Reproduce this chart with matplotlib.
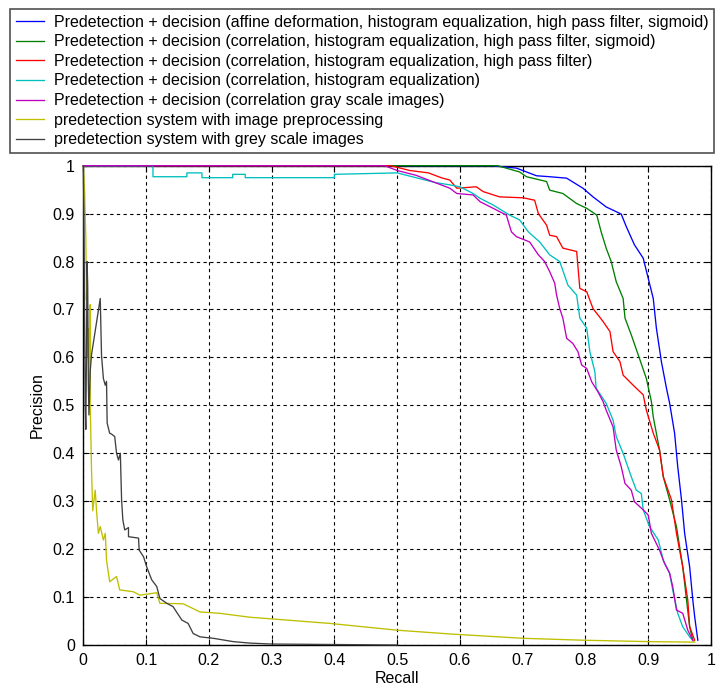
import matplotlib
matplotlib.use("Agg")
import matplotlib.pyplot as plt

plt.rcParams['font.family'] = ['Liberation Sans', 'DejaVu Sans']

labels = [
    "Predetection + decision (affine deformation, histogram equalization, high pass filter, sigmoid)",
    "Predetection + decision (correlation, histogram equalization, high pass filter, sigmoid)",
    "Predetection + decision (correlation, histogram equalization, high pass filter)",
    "Predetection + decision (correlation, histogram equalization)",
    "Predetection + decision (correlation gray scale images)",
    "predetection system with image preprocessing",
    "predetection system with grey scale images",
]
colors = [(0, 0, 1), (0, 0.5, 0), (1, 0, 0), (0, 0.75, 0.75),
          (0.75, 0, 0.75), (0.75, 0.75, 0), (0.25, 0.25, 0.25)]

# Blue: affine deformation, hist eq, HPF, sigmoid
blue_r = [0.0, 0.65, 0.69, 0.722, 0.743, 0.77, 0.796, 0.812, 0.833, 0.857, 0.865, 0.878,
          0.892, 0.900, 0.908, 0.913, 0.921, 0.929, 0.934, 0.942, 0.947, 0.953, 0.958,
          0.966, 0.971, 0.974, 0.979]
blue_p = [1.0, 1.0, 0.995, 0.979, 0.977, 0.974, 0.953, 0.935, 0.914, 0.899, 0.873, 0.835,
          0.807, 0.765, 0.723, 0.661, 0.591, 0.536, 0.505, 0.442, 0.372, 0.303, 0.233,
          0.163, 0.094, 0.059, 0.01]

# Green: correlation, hist eq, HPF, sigmoid
green_r = [0.0, 0.66, 0.695, 0.706, 0.738, 0.743, 0.764, 0.786, 0.802, 0.818, 0.825, 0.833,
           0.841, 0.849, 0.860, 0.863, 0.873, 0.886, 0.897, 0.905, 0.908, 0.918, 0.924,
           0.934, 0.945, 0.955, 0.961, 0.966, 0.971]
green_p = [1.0, 1.0, 0.987, 0.977, 0.967, 0.949, 0.942, 0.921, 0.911, 0.897, 0.862, 0.828,
           0.800, 0.758, 0.723, 0.682, 0.647, 0.598, 0.556, 0.508, 0.476, 0.407, 0.351,
           0.303, 0.247, 0.163, 0.094, 0.038, 0.01]

# Red: correlation, hist eq, HPF
red_r = [0.0, 0.49, 0.52, 0.55, 0.57, 0.584, 0.595, 0.626, 0.637, 0.663, 0.701, 0.719,
         0.725, 0.738, 0.743, 0.754, 0.764, 0.786, 0.791, 0.802, 0.812, 0.828, 0.839,
         0.844, 0.855, 0.860, 0.876, 0.892, 0.897, 0.908, 0.918, 0.924, 0.937, 0.945,
         0.950, 0.955, 0.963, 0.966, 0.974]
red_p = [1.0, 1.0, 0.99, 0.985, 0.975, 0.97, 0.953, 0.956, 0.946, 0.935, 0.933, 0.928,
         0.900, 0.876, 0.855, 0.852, 0.828, 0.821, 0.744, 0.737, 0.702, 0.675, 0.654,
         0.612, 0.591, 0.563, 0.542, 0.522, 0.49, 0.442, 0.407, 0.351, 0.303, 0.233,
         0.198, 0.163, 0.094, 0.038, 0.01]

# Cyan: correlation, hist eq
cyan_r = [0.0, 0.111, 0.111, 0.165, 0.165, 0.189, 0.189, 0.238, 0.238, 0.258, 0.258, 0.40,
          0.40, 0.50, 0.53, 0.56, 0.584, 0.600, 0.621, 0.632, 0.653, 0.679, 0.695, 0.709,
          0.727, 0.743, 0.759, 0.772, 0.786, 0.791, 0.802, 0.807, 0.815, 0.817, 0.833,
          0.844, 0.849, 0.860, 0.873, 0.881, 0.889, 0.892, 0.902, 0.916, 0.924, 0.934,
          0.939, 0.947, 0.955, 0.966, 0.972]
cyan_p = [1.0, 1.0, 0.977, 0.977, 0.985, 0.985, 0.975, 0.975, 0.982, 0.982, 0.975, 0.975,
          0.982, 0.985, 0.975, 0.965, 0.960, 0.956, 0.942, 0.932, 0.918, 0.897, 0.887, 0.862,
          0.841, 0.814, 0.800, 0.751, 0.730, 0.682, 0.661, 0.612, 0.570, 0.536, 0.504,
          0.469, 0.435, 0.400, 0.351, 0.323, 0.316, 0.282, 0.247, 0.219, 0.177, 0.150,
          0.115, 0.066, 0.038, 0.017, 0.008]

# Magenta: correlation gray scale images
mag_r = [0.0, 0.48, 0.50, 0.53, 0.55, 0.57, 0.584, 0.595, 0.621, 0.632, 0.653, 0.674,
         0.682, 0.690, 0.711, 0.725, 0.735, 0.743, 0.751, 0.754, 0.759, 0.764, 0.770,
         0.780, 0.788, 0.794, 0.802, 0.810, 0.820, 0.828, 0.833, 0.844, 0.849, 0.857,
         0.863, 0.873, 0.878, 0.892, 0.900, 0.905, 0.918, 0.926, 0.934, 0.939, 0.945,
         0.955, 0.963, 0.971]
mag_p = [1.0, 1.0, 0.99, 0.98, 0.97, 0.96, 0.953, 0.942, 0.939, 0.925, 0.911, 0.897,
         0.862, 0.852, 0.841, 0.814, 0.800, 0.779, 0.755, 0.730, 0.702, 0.682, 0.640,
         0.629, 0.612, 0.584, 0.577, 0.549, 0.528, 0.508, 0.49, 0.455, 0.407, 0.372,
         0.337, 0.323, 0.299, 0.282, 0.271, 0.233, 0.198, 0.170, 0.150, 0.122, 0.073,
         0.066, 0.031, 0.01]

# Yellow: predetection with image preprocessing
yel_r = [0.0, 0.002, 0.004, 0.005, 0.006, 0.007, 0.008, 0.009, 0.011, 0.011, 0.012, 0.013,
         0.015, 0.019, 0.021, 0.024, 0.027, 0.032, 0.035, 0.037, 0.042, 0.053, 0.058,
         0.080, 0.090, 0.117, 0.122, 0.159, 0.186, 0.218, 0.265, 0.393, 0.499, 0.584,
         0.700, 0.796, 0.902, 0.974]
yel_p = [1.0, 0.95, 0.85, 0.72, 0.78, 0.60, 0.66, 0.55, 0.71, 0.50, 0.44, 0.37,
         0.28, 0.323, 0.282, 0.233, 0.247, 0.219, 0.233, 0.177, 0.132, 0.143, 0.115,
         0.111, 0.104, 0.109, 0.087, 0.086, 0.069, 0.066, 0.058, 0.045, 0.031, 0.023,
         0.014, 0.010, 0.007, 0.006]

# Dark gray: predetection with grey scale images
gray_r = [0.0, 0.001, 0.002, 0.003, 0.004, 0.005, 0.006, 0.007, 0.008, 0.009, 0.011,
          0.013, 0.027, 0.029, 0.032, 0.035, 0.037, 0.038, 0.042, 0.045, 0.050, 0.053,
          0.056, 0.059, 0.061, 0.063, 0.066, 0.072, 0.072, 0.088, 0.089, 0.096, 0.101,
          0.109, 0.117, 0.122, 0.133, 0.143, 0.157, 0.167, 0.175, 0.186, 0.207, 0.239,
          0.265, 0.30, 0.40, 0.50]
gray_p = [1.0, 0.90, 0.70, 0.50, 0.45, 0.60, 0.80, 0.75, 0.55, 0.48, 0.57,
          0.605, 0.723, 0.605, 0.556, 0.542, 0.55, 0.463, 0.442, 0.44, 0.435, 0.40,
          0.386, 0.40, 0.303, 0.261, 0.240, 0.245, 0.226, 0.223, 0.198, 0.184, 0.163,
          0.136, 0.122, 0.097, 0.087, 0.080, 0.052, 0.045, 0.024, 0.017, 0.014, 0.007,
          0.004, 0.002, 0.001, 0.0]

series = [(blue_r, blue_p), (green_r, green_p), (red_r, red_p), (cyan_r, cyan_p),
          (mag_r, mag_p), (yel_r, yel_p), (gray_r, gray_p)]

ticks = [0, 0.1, 0.2, 0.3, 0.4, 0.5, 0.6, 0.7, 0.8, 0.9, 1]
tick_labels = ["0", "0.1", "0.2", "0.3", "0.4", "0.5", "0.6", "0.7", "0.8", "0.9", "1"]

W, H = 718, 691
fig = plt.figure(figsize=(W / 100, H / 100), dpi=100)
ax = fig.add_axes([83.3 / W, (H - 645) / H, (711 - 83.3) / W, (645 - 165.7) / H])

handles = []
for (r, p), c, lab in zip(series, colors, labels):
    h, = ax.plot(r, p, color=c, lw=0.95, label=lab, clip_on=False, zorder=3)
    handles.append(h)

ax.set_xlim(0, 1)
ax.set_ylim(0, 1)
ax.set_xticks(ticks)
ax.set_yticks(ticks)
ax.set_xticklabels(tick_labels)
ax.set_yticklabels(tick_labels)
ax.tick_params(direction='in', top=True, right=True, length=4, width=0.8,
               labelsize=11.5, pad=6)
ax.grid(True, color='k', linestyle=(0, (3, 3)), linewidth=0.8)
for s in ax.spines.values():
    s.set_linewidth(1.0)
    s.set_color('k')
ax.set_xlabel("Recall", fontsize=11.5, labelpad=2)
ax.set_ylabel("Precision", fontsize=11.5, labelpad=6)

leg = fig.legend(handles=handles, labels=labels, loc='upper left',
                 bbox_to_anchor=(10 / W, 1 - 9 / H), borderaxespad=0,
                 fontsize=11.5, frameon=True, fancybox=False, framealpha=1,
                 edgecolor='#505050', handlelength=1.8, handletextpad=0.6,
                 labelspacing=0.29, borderpad=0.35)
leg.get_frame().set_linewidth(1.2)

fig.savefig("out.png", dpi=100)
